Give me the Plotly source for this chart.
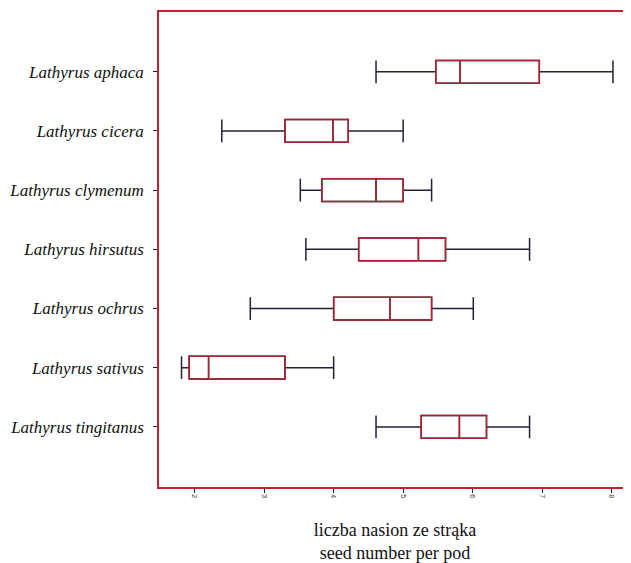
import plotly.graph_objects as go

species = ["Lathyrus aphaca", "Lathyrus cicera", "Lathyrus clymenum", "Lathyrus hirsutus",
           "Lathyrus ochrus", "Lathyrus sativus", "Lathyrus tingitanus"]
lower = [4.61, 2.39, 3.52, 3.60, 2.80, 1.81, 4.61]
q1 = [5.47, 3.30, 3.83, 4.36, 4.00, 1.92, 5.26]
median = [5.82, 3.99, 4.61, 5.22, 4.81, 2.20, 5.81]
q3 = [6.96, 4.21, 5.00, 5.61, 5.41, 3.30, 6.20]
upper = [8.02, 5.00, 5.41, 6.82, 6.01, 4.00, 6.82]
xticks = [2, 3, 4, 5, 6, 7, 8]

whisker_col = "#23213a"
box_col = "#b0222f"
frame_col = "#c0222e"

fig = go.Figure()
# whiskers and caps
fig.add_trace(go.Box(
    y=species, q1=q1, median=median, q3=q3, lowerfence=lower, upperfence=upper,
    orientation="h", width=0.384, whiskerwidth=1, fillcolor="white",
    line=dict(color=whisker_col, width=1.5), boxpoints=False, hoverinfo="skip",
    showlegend=False))
# box outline and median
fig.add_trace(go.Box(
    y=species, q1=q1, median=median, q3=q3, lowerfence=q1, upperfence=q3,
    orientation="h", width=0.384, whiskerwidth=1, fillcolor="rgba(0,0,0,0)",
    line=dict(color=box_col, width=1.5), boxpoints=False, hoverinfo="skip",
    showlegend=False))

fig.update_layout(
    width=623, height=555,
    margin=dict(l=151, r=0, t=4, b=76),
    paper_bgcolor="white", plot_bgcolor="white",
    boxmode="overlay",
    showlegend=False,
    font=dict(family="Liberation Serif", color="#111111"),
)
fig.update_xaxes(
    range=[1.486, 8.28], tickvals=xticks, ticktext=[str(t) for t in xticks],
    tickangle=90, tickfont=dict(size=7, color="#333333", family="Liberation Sans"),
    ticks="outside", ticklen=4, tickcolor="#222222", tickwidth=1,
    showline=True, linecolor=frame_col, linewidth=1.5, mirror=True,
    showgrid=False, zeroline=False, automargin=False,
    title=dict(text="liczba nasion ze strąka<br>seed number per pod",
               font=dict(size=18, family="Liberation Serif", color="#111111"), standoff=32),
)
fig.update_yaxes(
    type="category", categoryorder="array", categoryarray=species,
    range=[7.015, -1.01],
    tickfont=dict(size=17, family="Liberation Serif", color="#111111", style="italic"),
    ticks="outside", ticklen=4, tickcolor="#222222", tickwidth=1,
    showline=True, linecolor=frame_col, linewidth=1.5, mirror=False,
    showgrid=False, zeroline=False, ticklabelstandoff=6, automargin=False,
)
fig.write_html("out.html")
